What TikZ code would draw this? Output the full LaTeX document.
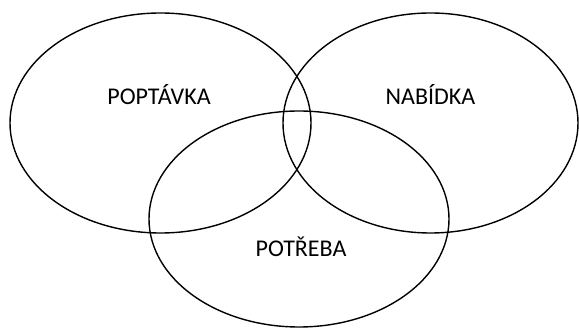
\documentclass[tikz,border=0pt]{standalone}
\usepackage{fontspec}
\setmainfont{Carlito}
\usetikzlibrary{shapes.geometric}
\tikzset{
  setshape/.style={draw=black, line width=1.4pt, ellipse, inner sep=0pt},
  lbl/.style={font=\fontsize{24}{28}\selectfont, inner sep=0pt}
}
\begin{document}
\begin{tikzpicture}[x=1pt,y=-1pt]
\useasboundingbox (0,0) rectangle (579,328);
\node[setshape, minimum width=301pt, minimum height=220pt] (poptavka) at (160.5,123) {};
\node[setshape, minimum width=295pt, minimum height=220pt] (nabidka) at (430.5,123) {};
\node[setshape, minimum width=300pt, minimum height=216pt] (potreba) at (299,219) {};
\node[lbl, anchor=base] (tpoptavka) at (159,105) {POPTÁVKA};
\node[lbl, anchor=base] (tnabidka) at (430.5,105) {NABÍDKA};
\node[lbl, anchor=base] (tpotreba) at (301,257) {POTŘEBA};
\end{tikzpicture}
\end{document}
